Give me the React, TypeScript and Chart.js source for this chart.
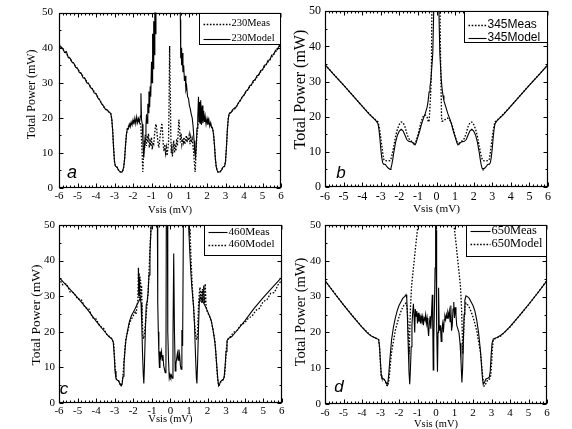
import React, { useEffect, useRef } from "react";
import { Chart, registerables } from "chart.js";
Chart.register(...registerables);

const SERIF = '"Liberation Serif", "Times New Roman", serif';
const SANS = '"Liberation Sans", Arial, sans-serif';

const X_TICKS = [-6, -5, -4, -3, -2, -1, 0, 1, 2, 3, 4, 5, 6];
const Y_TICKS = [0, 10, 20, 30, 40, 50];
const X_MIN = -6, X_MAX = 6, Y_MIN = 0, Y_MAX = 50;

type Pt = [number, number];

// ---------- Panel a : 230 ----------
const A_MEAS: Pt[] = [[-6,41],[-5,34],[-4,26.8],[-3.5,22.5],[-3.2,21.2],[-3.15,19.8],[-3.1,16.5],[-3.05,11.5],[-3,7.5],[-2.95,6.2],[-2.85,5.9],[-2.8,5.2],[-2.7,4.6],[-2.6,4.5],[-2.55,5],[-2.5,6],[-2.45,8.5],[-2.4,12.5],[-2.35,15.5],[-2.3,17],[-2.2,18],[-2,18.8],[-1.8,19.3],[-1.65,19],[-1.58,18],[-1.54,14],[-1.5,9],[-1.47,4.6],[-1.44,8],[-1.4,13.5],[-1.36,11.5],[-1.32,14.5],[-1.28,12],[-1.24,15],[-1.2,13],[-1.16,15.5],[-1.12,11.5],[-1.08,14],[-1.04,12],[-1,14.5],[-0.96,11],[-0.92,13],[-0.88,12.5],[-0.84,15],[-0.8,17],[-0.76,18.2],[-0.72,17],[-0.68,14.5],[-0.64,12.5],[-0.6,11.5],[-0.56,13.5],[-0.52,15.5],[-0.48,17],[-0.44,18.5],[-0.4,16],[-0.36,12],[-0.32,10.5],[-0.28,12.5],[-0.24,10],[-0.2,11.5],[-0.16,9.2],[-0.12,11],[-0.08,13],[-0.05,25],[-0.02,40.5],[0.01,30],[0.04,16],[0.07,10],[0.1,12.5],[0.13,9],[0.17,11.5],[0.2,13.5],[0.24,10],[0.28,12.5],[0.32,10.5],[0.36,14],[0.4,12],[0.44,15.5],[0.48,19.5],[0.52,17],[0.56,13],[0.6,15.5],[0.64,12.5],[0.68,14],[0.72,13],[0.76,14.5],[0.8,12.5],[0.84,13.5],[0.88,15],[0.92,13],[0.96,14.5],[1,13.5],[1.04,15],[1.08,12.5],[1.12,14.5],[1.16,13],[1.2,14],[1.24,12],[1.28,10],[1.32,7],[1.36,4.6],[1.4,9],[1.44,14],[1.5,18],[1.6,19],[1.8,19.3],[2,18.8],[2.2,18],[2.3,17],[2.35,15.5],[2.4,12.5],[2.45,8.5],[2.5,6],[2.55,5],[2.6,4.5],[2.7,4.6],[2.8,5.2],[2.85,5.9],[2.95,6.2],[3,7.5],[3.05,11.5],[3.1,16.5],[3.15,19.8],[3.2,21.2],[3.5,22.6],[4,26.6],[5,33.8],[6,40.9]];
const A_MODEL: Pt[] = [[-6,41],[-5.9,40.1],[-5.8,39.8],[-5.7,38.6],[-5.6,38.9],[-5.5,37.2],[-5.4,37],[-5.3,35.9],[-5.2,35.6],[-5.1,34.4],[-5,34.1],[-4.9,32.9],[-4.8,32.7],[-4.7,31.4],[-4.6,31.3],[-4.5,30],[-4.4,29.8],[-4.3,28.6],[-4.2,28.3],[-4.1,27.1],[-4,26.9],[-3.9,25.7],[-3.8,25.1],[-3.7,24],[-3.6,23.4],[-3.5,22.5],[-3.4,22.3],[-3.3,21.7],[-3.2,21.2],[-3.15,19.8],[-3.1,16.5],[-3.05,11.5],[-3,7.5],[-2.95,6.2],[-2.85,5.9],[-2.8,5.2],[-2.7,4.6],[-2.6,4.5],[-2.55,5],[-2.5,6],[-2.45,8.5],[-2.4,12.5],[-2.35,15.5],[-2.3,17],[-2.25,16.8],[-2.2,18.2],[-2.15,17.4],[-2.1,18.8],[-2.05,17.9],[-2,19.4],[-1.95,18.1],[-1.9,19.9],[-1.85,18.3],[-1.8,20.3],[-1.75,18.6],[-1.7,19.8],[-1.65,18.7],[-1.6,20.5],[-1.57,27],[-1.54,19.5],[-1.5,18.2],[-1.46,13],[-1.42,8.6],[-1.38,11.5],[-1.34,15],[-1.3,17.5],[-1.27,21],[-1.24,18.5],[-1.2,24],[-1.17,21.5],[-1.14,27.5],[-1.1,23],[-1.07,29],[-1.04,26],[-1,36],[-0.97,30],[-0.94,44],[-0.91,34],[-0.88,47.5],[-0.85,38],[-0.82,52],[-0.79,44],[-0.76,58],[-0.72,70],[0.52,70],[0.56,48],[0.58,37],[0.6,40],[0.63,35],[0.66,38.5],[0.7,33],[0.74,35],[0.78,30.5],[0.82,32],[0.86,28],[0.9,29],[0.95,26],[1,25.5],[1.05,23.5],[1.1,22.5],[1.15,21],[1.2,20],[1.25,17.5],[1.3,13.5],[1.34,10],[1.38,8.8],[1.42,12],[1.46,17],[1.5,20],[1.54,26],[1.57,19],[1.6,24.5],[1.63,18.5],[1.66,25],[1.7,18],[1.74,23.5],[1.78,18.5],[1.82,22],[1.86,18.8],[1.9,20.5],[1.95,18.2],[2,19.8],[2.05,18],[2.1,19.5],[2.15,17.6],[2.2,18.6],[2.25,17.2],[2.3,17],[2.35,15.5],[2.4,12.5],[2.45,8.5],[2.5,6],[2.55,5],[2.6,4.5],[2.7,4.6],[2.8,5.2],[2.85,5.9],[2.95,6.2],[3,7.5],[3.05,11.5],[3.1,16.5],[3.15,19.8],[3.2,21.2],[3.3,21.5],[3.4,22.4],[3.5,22.8],[3.6,23.2],[3.7,24.3],[3.8,24.9],[3.9,26],[4,26.4],[4.1,27.6],[4.2,27.9],[4.3,29.1],[4.4,29.4],[4.5,30.6],[4.6,30.8],[4.7,32],[4.8,32.2],[4.9,33.5],[5,33.6],[5.1,35],[5.2,35.1],[5.3,36.4],[5.4,36.5],[5.5,37.9],[5.6,38],[5.7,39.3],[5.8,39.4],[5.9,40.6],[6,40.8]];

// ---------- Panel b : 345 ----------
const B_MEAS: Pt[] = [[-6,34.8],[-5,29],[-4,23],[-3.5,20.2],[-3.3,19.2],[-3.15,18.5],[-3.1,17.5],[-3.05,16],[-3,14],[-2.95,12],[-2.9,10],[-2.85,8],[-2.8,7.5],[-2.6,7.4],[-2.5,7.5],[-2.45,8],[-2.4,9],[-2.3,11.5],[-2.2,14.5],[-2.1,16.5],[-2,17.8],[-1.9,18.5],[-1.8,18.3],[-1.7,17.2],[-1.6,15.3],[-1.5,13.8],[-1.4,13.2],[-1.3,12.9],[-1.2,12.4],[-1.1,13],[-1,14.8],[-0.9,17],[-0.8,19],[-0.7,20.3],[-0.6,20.5],[-0.5,19.8],[-0.45,18.8],[-0.4,18.5],[-0.37,21],[-0.33,25],[-0.3,28],[-0.27,35],[-0.25,50],[-0.23,60],[0.17,60],[0.19,50],[0.21,40],[0.24,30],[0.27,20],[0.3,18.7],[0.4,18.8],[0.5,19.4],[0.6,19.6],[0.7,19.2],[0.8,18.2],[0.9,16.5],[1,14.5],[1.1,12.9],[1.2,12.4],[1.3,12.8],[1.4,13.2],[1.5,13.8],[1.6,15.3],[1.7,17.2],[1.8,18.3],[1.9,18.5],[2,17.8],[2.1,16.5],[2.2,14.5],[2.3,11.5],[2.4,9],[2.45,8],[2.5,7.5],[2.6,7.4],[2.8,7.5],[2.85,8],[2.9,10],[2.95,12],[3,14],[3.05,16],[3.1,17.5],[3.15,18.5],[3.3,19.2],[3.5,20.2],[4,23],[5,29],[6,34.8]];
const B_MODEL: Pt[] = [[-6,34.8],[-5.5,31.8],[-5,29],[-4.5,26],[-4,23],[-3.6,20.6],[-3.4,19.6],[-3.25,18.8],[-3.15,18],[-3.1,16.5],[-3.05,14],[-3,11],[-2.95,8.5],[-2.9,7],[-2.85,6.5],[-2.75,6.4],[-2.7,6],[-2.6,5.4],[-2.5,5],[-2.45,5.4],[-2.4,6.5],[-2.35,8],[-2.3,9.8],[-2.2,12.8],[-2.1,14.8],[-2,15.9],[-1.9,16.4],[-1.8,16],[-1.7,14.8],[-1.6,13.5],[-1.5,13],[-1.4,12.9],[-1.3,12.7],[-1.2,12.1],[-1.15,12],[-1.1,12.6],[-1,14.3],[-0.9,16],[-0.8,18],[-0.7,19.6],[-0.6,21],[-0.5,22.8],[-0.45,24.5],[-0.4,27],[-0.35,28.5],[-0.3,30.5],[-0.2,38],[-0.15,50],[-0.12,60],[0.1,60],[0.13,50],[0.18,38],[0.25,31],[0.3,28],[0.35,26],[0.4,24.5],[0.5,22.8],[0.6,21],[0.7,19.6],[0.8,18],[0.9,16],[1,14.3],[1.1,12.6],[1.15,12],[1.2,12.1],[1.3,12.7],[1.4,12.9],[1.5,13],[1.6,13.5],[1.7,14.8],[1.8,16],[1.9,16.4],[2,15.9],[2.1,14.8],[2.2,12.8],[2.3,9.8],[2.35,8],[2.4,6.5],[2.45,5.4],[2.5,5],[2.6,5.4],[2.7,6],[2.75,6.4],[2.85,6.5],[2.9,7],[2.95,8.5],[3,11],[3.05,14],[3.1,16.5],[3.15,18],[3.25,18.8],[3.4,19.6],[3.6,20.6],[4,23],[4.5,26],[5,29],[5.5,31.8],[6,34.8]];

// ---------- Panel c : 460 ----------
const C_MEAS: Pt[] = [[-6,35.3],[-5.5,32.5],[-5,29.6],[-4.5,26.5],[-4,23],[-3.5,19.8],[-3.3,18.6],[-3.15,18],[-3.08,17.2],[-3.03,14],[-2.98,9],[-2.93,6.8],[-2.85,6.4],[-2.78,6.2],[-2.72,5.3],[-2.65,4.8],[-2.6,5.3],[-2.55,7.5],[-2.5,11],[-2.45,14.5],[-2.4,17.5],[-2.3,20.5],[-2.2,23],[-2.1,24.5],[-2,25.5],[-1.9,26.5],[-1.8,27.6],[-1.7,28.6],[-1.62,29.5],[-1.58,28],[-1.54,22],[-1.5,14],[-1.46,8],[-1.43,5.5],[-1.4,10],[-1.35,20],[-1.3,27.5],[-1.25,28.5],[-1.2,31],[-1.15,36],[-1.1,42],[-1.05,48],[-1,55],[-0.9,70],[-0.75,70],[-0.7,50],[-0.68,28],[-0.65,20],[-0.62,14],[-0.59,10],[-0.56,14.5],[-0.52,13],[-0.48,14.5],[-0.44,12],[-0.4,13.5],[-0.36,10.5],[-0.32,9.5],[-0.28,8.5],[-0.24,9],[-0.21,70],[-0.17,70],[-0.14,20],[-0.1,12],[-0.06,7],[-0.02,8],[0.02,7.2],[0.06,7.8],[0.1,7],[0.14,18],[0.18,42],[0.22,20],[0.26,9],[0.3,11],[0.34,12.5],[0.38,14],[0.42,12],[0.46,15],[0.5,13.5],[0.54,10.5],[0.58,9.5],[0.62,20.5],[0.66,16],[0.7,50],[0.74,70],[0.9,70],[0.95,55],[1,48],[1.05,42],[1.1,37],[1.15,33],[1.2,30],[1.25,27],[1.3,22],[1.35,14],[1.4,7],[1.43,5.5],[1.47,12],[1.52,22],[1.56,28.5],[1.6,29.8],[1.65,29.6],[1.7,29],[1.8,28],[1.9,27],[2,25.8],[2.1,24.5],[2.2,23.2],[2.3,20.5],[2.4,17],[2.45,14],[2.5,10.5],[2.55,7],[2.6,4.8],[2.65,5.2],[2.7,6],[2.78,6.4],[2.85,6.5],[2.9,7.5],[2.95,10.5],[3,14.5],[3.05,17.5],[3.15,18.2],[3.3,18.6],[3.5,19.8],[4,23],[4.5,26.5],[5,29.6],[5.5,32.5],[6,35.3]];
const C_MODEL: Pt[] = [[-6,35],[-5.8,33.2],[-5.6,33.5],[-5.4,31.2],[-5.2,31],[-5,29.2],[-4.8,29.1],[-4.6,26.8],[-4.4,26.5],[-4.2,24],[-4,23.6],[-3.8,21.6],[-3.6,21],[-3.4,19],[-3.25,18.6],[-3.12,17.8],[-3.05,16.5],[-3,12],[-2.95,8],[-2.9,6.6],[-2.8,6.3],[-2.72,5.5],[-2.65,4.9],[-2.6,5.5],[-2.55,8],[-2.5,11.5],[-2.45,15],[-2.4,18],[-2.3,20],[-2.2,22.5],[-2.1,23.5],[-2,24.5],[-1.9,25.5],[-1.85,25],[-1.8,27],[-1.75,29],[-1.72,38],[-1.7,30],[-1.68,36.5],[-1.66,29.5],[-1.64,35.5],[-1.62,30],[-1.6,34.5],[-1.58,29],[-1.55,33],[-1.52,25],[-1.48,18.5],[-1.44,18],[-1.4,19.5],[-1.35,22],[-1.3,25],[-1.25,28],[-1.2,31],[-1.15,37],[-1.1,43],[-1.05,49],[-1,55],[-0.8,70],[0.8,70],[1,55],[1.03,47],[1.06,49],[1.1,42],[1.15,36],[1.2,31],[1.25,27],[1.3,23],[1.35,19.5],[1.4,18],[1.44,17.8],[1.48,22],[1.52,28],[1.56,31],[1.6,32.5],[1.63,28.5],[1.66,31.5],[1.7,28],[1.73,32],[1.76,28.5],[1.8,33],[1.84,28],[1.88,33.5],[1.92,27.5],[1.96,26],[2,25.5],[2.1,24.5],[2.2,23],[2.3,20.5],[2.4,17.5],[2.45,14],[2.5,10],[2.55,6.5],[2.6,4.9],[2.68,5.4],[2.75,6.3],[2.85,6.6],[2.92,7.5],[2.97,11],[3.02,15.5],[3.08,17.8],[3.2,18.4],[3.4,19.8],[3.6,20.4],[3.8,22],[4,22.5],[4.2,23.8],[4.4,24.4],[4.6,26],[4.8,26.6],[5,28.5],[5.2,29],[5.4,30.8],[5.6,31],[5.8,33.2],[6,34.5]];

// ---------- Panel d : 650 ----------
const D_MEAS: Pt[] = [[-6,34.5],[-5.5,31],[-5,27.7],[-4.5,24.5],[-4,21.5],[-3.7,19.8],[-3.5,19],[-3.3,18.5],[-3.1,18],[-3.05,16],[-3,11.5],[-2.96,8],[-2.92,7.2],[-2.82,7],[-2.75,6.5],[-2.7,6],[-2.65,5.5],[-2.6,6],[-2.55,8.5],[-2.5,12],[-2.45,15],[-2.4,18],[-2.3,21.5],[-2.2,24],[-2.1,26],[-2,27.5],[-1.9,28.5],[-1.8,29.5],[-1.7,30],[-1.62,30.5],[-1.58,29.5],[-1.55,25],[-1.5,16],[-1.46,9],[-1.42,5.5],[-1.38,10],[-1.34,16],[-1.3,22],[-1.26,25.5],[-1.22,28],[-1.18,24],[-1.15,20],[-1.12,26.5],[-1.08,24.5],[-1.04,26],[-1,22.5],[-0.96,25.5],[-0.92,23],[-0.88,25],[-0.84,22.5],[-0.8,24.5],[-0.76,23.5],[-0.72,24.5],[-0.68,22],[-0.64,24],[-0.6,23.5],[-0.56,25],[-0.52,22.5],[-0.48,24],[-0.44,21.5],[-0.4,19],[-0.36,22.5],[-0.32,24.5],[-0.28,21],[-0.24,25.5],[-0.2,30.5],[-0.17,20],[-0.15,9.5],[-0.12,18],[-0.08,28],[-0.05,38],[-0.02,50],[0,48.5],[0.02,42],[0.05,22],[0.08,9],[0.11,20],[0.14,32.5],[0.17,22],[0.2,20.5],[0.24,22],[0.28,17.5],[0.32,21],[0.36,22.5],[0.4,20],[0.44,23.5],[0.48,24.5],[0.52,23.5],[0.56,25],[0.6,24],[0.64,25.5],[0.68,24.5],[0.72,26],[0.76,23],[0.8,27.5],[0.84,20.5],[0.88,22],[0.92,26.5],[0.96,28.5],[1,24],[1.04,27],[1.08,25],[1.12,22],[1.18,21],[1.24,20],[1.3,17],[1.35,12],[1.4,6],[1.44,10],[1.48,18],[1.52,25],[1.56,29],[1.62,30.2],[1.7,30],[1.8,29.5],[1.9,28.5],[2,27.5],[2.1,26],[2.2,23.5],[2.3,20],[2.4,15],[2.45,11.5],[2.5,8],[2.55,5.5],[2.62,6],[2.7,7],[2.8,7.2],[2.88,7.5],[2.93,9],[2.98,13.5],[3.03,17],[3.1,18.2],[3.3,18.6],[3.5,19.2],[3.7,20],[4,21.6],[4.5,24.6],[5,27.8],[5.5,31],[6,34.5]];
const D_MODEL: Pt[] = [[-6,34.5],[-5,27.7],[-4,21.5],[-3.5,19],[-3.1,18],[-3.05,15.5],[-3,11],[-2.96,8],[-2.9,7],[-2.8,6.8],[-2.72,6],[-2.65,5.2],[-2.6,5],[-2.55,6.5],[-2.5,9],[-2.45,12],[-2.4,14.5],[-2.3,17.5],[-2.2,20.5],[-2.1,22.5],[-2,24.3],[-1.9,25.8],[-1.8,27],[-1.7,27.8],[-1.62,28.2],[-1.56,27],[-1.52,23],[-1.48,17.5],[-1.45,14],[-1.42,20],[-1.38,27],[-1.32,33],[-1.24,37],[-1.15,41.5],[-1.06,46],[-0.97,50],[-0.85,54],[-0.6,62],[0,70],[0.6,62],[0.85,54],[0.97,50],[1.06,46],[1.15,41.5],[1.24,37],[1.32,33],[1.38,27],[1.42,20],[1.45,14],[1.48,17.5],[1.52,23],[1.56,27],[1.62,28.2],[1.7,27.8],[1.8,27],[1.9,25.8],[2,24.3],[2.1,22.5],[2.2,20.5],[2.3,17.5],[2.4,14.5],[2.45,12],[2.5,9],[2.55,6.5],[2.6,5],[2.65,5.2],[2.72,6],[2.8,6.8],[2.9,7],[2.96,8],[3,11],[3.05,15.5],[3.1,18],[3.5,19],[4,21.5],[5,27.7],[6,34.5]];

const DOT = [1.6, 1.6];
const SOLID: number[] = [];

type Series = { pts: Pt[]; dash: number[]; label: string };
type Panel = {
  id: string;
  left: number; top: number; w: number; h: number;
  padTop: number; padRight: number; yAxisW: number; xAxisH: number;
  tickSize: number; yTickPad: number; xTickPad: number;
  yTitleSize: number; yTitleX: number; yTitleDy: number;
  xTitleSize: number; xTitleDy: number;
  letter: string; letterSize: number; letterDx: number; letterDy: number;
  legW: number; legH: number; legRows: number[]; legLine: number[]; legTextX: number; legFont: string;
  series: Series[];
};

const PANELS: Panel[] = [
  { id: "a", left: 0, top: 0, w: 286, h: 228, padTop: 9, padRight: 5, yAxisW: 59, xAxisH: 40,
    tickSize: 11, yTickPad: 6, xTickPad: 2, yTitleSize: 12, yTitleX: 32, yTitleDy: -6, xTitleSize: 10.5, xTitleDy: 22,
    letter: "a", letterSize: 18, letterDx: 13, letterDy: -15,
    legW: 82, legH: 31, legRows: [10, 25], legLine: [4, 31], legTextX: 32, legFont: `10.5px ${SERIF}`,
    series: [ { pts: A_MEAS, dash: DOT, label: "230Meas" }, { pts: A_MODEL, dash: SOLID, label: "230Model" } ] },
  { id: "b", left: 286, top: 0, w: 286, h: 228, padTop: 8, padRight: 24, yAxisW: 39, xAxisH: 41,
    tickSize: 12, yTickPad: 4, xTickPad: 3, yTitleSize: 16, yTitleX: 15, yTitleDy: -9.5, xTitleSize: 11.2, xTitleDy: 22,
    letter: "b", letterSize: 17, letterDx: 16, letterDy: -14,
    legW: 84, legH: 31, legRows: [13, 26], legLine: [4, 22], legTextX: 23, legFont: `12px ${SANS}`,
    series: [ { pts: B_MEAS, dash: DOT, label: "345Meas" }, { pts: B_MODEL, dash: SOLID, label: "345Model" } ] },
  { id: "c", left: 0, top: 214, w: 286, h: 215, padTop: 11, padRight: 4, yAxisW: 59, xAxisH: 26,
    tickSize: 11, yTickPad: 4, xTickPad: 1.5, yTitleSize: 13.5, yTitleX: 36.7, yTitleDy: 1, xTitleSize: 10.5, xTitleDy: 16,
    letter: "c", letterSize: 17, letterDx: 5, letterDy: -14,
    legW: 78, legH: 30, legRows: [6.5, 19], legLine: [4, 23], legTextX: 24, legFont: `11.2px ${SERIF}`,
    series: [ { pts: C_MEAS, dash: SOLID, label: "460Meas" }, { pts: C_MODEL, dash: DOT, label: "460Model" } ] },
  { id: "d", left: 286, top: 214, w: 286, h: 230, padTop: 11, padRight: 25, yAxisW: 39, xAxisH: 40,
    tickSize: 11, yTickPad: 4, xTickPad: 3, yTitleSize: 14.5, yTitleX: 15, yTitleDy: -2.5, xTitleSize: 10.5, xTitleDy: 20.7,
    letter: "d", letterSize: 17, letterDx: 14, letterDy: -17,
    legW: 81, legH: 31, legRows: [5.5, 18.5], legLine: [4, 24], legTextX: 25, legFont: `12.4px ${SERIF}`,
    series: [ { pts: D_MEAS, dash: SOLID, label: "650Meas" }, { pts: D_MODEL, dash: DOT, label: "650Model" } ] },
];

function makeFrame(p: Panel) {
  return {
    id: "frame_" + p.id,
    afterDraw(chart: any) {
      const { ctx, chartArea: ca } = chart;
      const sx = chart.scales.x, sy = chart.scales.y;
      ctx.save();
      ctx.strokeStyle = "#000";
      ctx.fillStyle = "#000";
      ctx.setLineDash([]);
      ctx.lineWidth = 1;
      const L = Math.round(ca.left) + 0.5, R = Math.round(ca.right) - 0.5;
      const T = Math.round(ca.top) + 0.5, B = Math.round(ca.bottom) - 0.5;
      ctx.beginPath();
      for (let i = Math.round(X_MIN * 5); i <= Math.round(X_MAX * 5); i++) {
        const v = i / 5;
        const px = Math.round(sx.getPixelForValue(v)) + 0.5;
        const len = i % 5 === 0 ? 4 : 2;
        ctx.moveTo(px, B); ctx.lineTo(px, B - len);
        ctx.moveTo(px, T); ctx.lineTo(px, T + len);
      }
      for (let i = 0; i <= (Y_MAX - Y_MIN) / 5; i++) {
        const v = Y_MIN + i * 5;
        const py = Math.round(sy.getPixelForValue(v)) + 0.5;
        const len = i % 2 === 0 ? 4 : 2;
        ctx.moveTo(L, py); ctx.lineTo(L + len, py);
        ctx.moveTo(R, py); ctx.lineTo(R - len, py);
      }
      ctx.stroke();
      ctx.lineWidth = 1.2;
      ctx.strokeRect(L, T, R - L, B - T);

      // legend
      const bx = Math.round(ca.right - p.legW) + 0.5, by = T;
      ctx.fillStyle = "#fff";
      ctx.fillRect(bx, by, p.legW, p.legH);
      ctx.lineWidth = 1;
      ctx.strokeRect(bx, by, R - bx, p.legH);
      ctx.fillStyle = "#000";
      ctx.font = p.legFont;
      ctx.textBaseline = "middle";
      ctx.textAlign = "left";
      p.series.forEach((s, k) => {
        const y = by + p.legRows[k];
        ctx.setLineDash(s.dash);
        ctx.lineWidth = s.dash.length ? 1.3 : 1.1;
        ctx.beginPath();
        ctx.moveTo(bx + p.legLine[0], Math.round(y) + 0.5);
        ctx.lineTo(bx + p.legLine[1], Math.round(y) + 0.5);
        ctx.stroke();
        ctx.setLineDash([]);
        ctx.fillText(s.label, bx + p.legTextX, y);
      });

      // panel letter
      ctx.font = `italic ${p.letterSize}px ${SANS}`;
      ctx.textAlign = "center";
      ctx.fillText(p.letter, ca.left + p.letterDx, ca.bottom + p.letterDy);

      // axis titles
      ctx.font = `${p.xTitleSize}px ${SERIF}`;
      ctx.fillText("Vsis (mV)", (ca.left + ca.right) / 2, ca.bottom + p.xTitleDy);
      ctx.save();
      ctx.translate(p.yTitleX, (ca.top + ca.bottom) / 2 + p.yTitleDy);
      ctx.rotate(-Math.PI / 2);
      ctx.font = `${p.yTitleSize}px ${SERIF}`;
      ctx.fillText("Total Power (mW)", 0, 0);
      ctx.restore();
      ctx.restore();
    },
  };
}

function PanelChart({ p }: { p: Panel }) {
  const ref = useRef<HTMLCanvasElement | null>(null);
  useEffect(() => {
    if (!ref.current) return;
    const chart = new Chart(ref.current, {
      type: "scatter",
      data: {
        datasets: p.series.map((s) => ({
          label: s.label,
          data: s.pts.map(([x, y]) => ({ x, y })),
          showLine: true,
          borderColor: "#000",
          backgroundColor: "#000",
          borderWidth: s.dash.length ? 1.3 : 1.1,
          borderDash: s.dash,
          pointRadius: 0,
          pointHoverRadius: 0,
          tension: 0,
          fill: false,
        })),
      },
      options: {
        responsive: false,
        animation: false,
        devicePixelRatio: 1,
        events: [],
        layout: { padding: { top: p.padTop, right: p.padRight, left: 0, bottom: 0 } },
        plugins: { legend: { display: false }, tooltip: { enabled: false }, title: { display: false } },
        scales: {
          x: {
            type: "linear", min: X_MIN, max: X_MAX,
            grid: { display: false, drawTicks: false },
            border: { display: false },
            ticks: { color: "#000", font: { family: SERIF, size: p.tickSize }, padding: p.xTickPad, maxRotation: 0, autoSkip: false },
            afterBuildTicks: (s: any) => { s.ticks = X_TICKS.map((v) => ({ value: v })); },
            afterFit: (s: any) => { s.height = p.xAxisH; },
          },
          y: {
            type: "linear", min: Y_MIN, max: Y_MAX,
            grid: { display: false, drawTicks: false },
            border: { display: false },
            ticks: { color: "#000", font: { family: SERIF, size: p.tickSize }, padding: p.yTickPad, autoSkip: false },
            afterBuildTicks: (s: any) => { s.ticks = Y_TICKS.map((v) => ({ value: v })); },
            afterFit: (s: any) => { s.width = p.yAxisW; },
          },
        },
      } as any,
      plugins: [makeFrame(p)],
    });
    return () => chart.destroy();
  }, [p]);
  return (
    <div style={{ position: "absolute", left: p.left, top: p.top, width: p.w, height: p.h }}>
      <canvas ref={ref} width={p.w} height={p.h} style={{ display: "block", width: p.w, height: p.h }} />
    </div>
  );
}

export default function App() {
  return (
    <div style={{ position: "absolute", left: 0, top: 0, width: 572, height: 429, overflow: "hidden", background: "#fff" }}>
      {PANELS.map((p) => (
        <PanelChart key={p.id} p={p} />
      ))}
    </div>
  );
}
